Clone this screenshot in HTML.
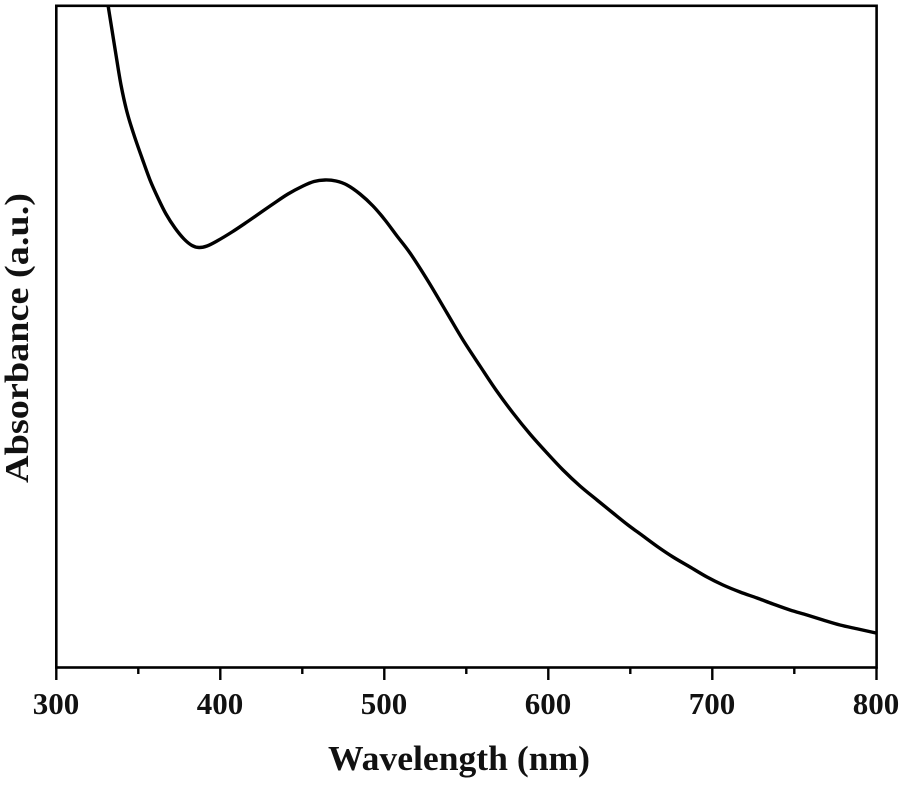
<!DOCTYPE html>
<html>
<head>
<meta charset="utf-8">
<style>
  html, body { margin: 0; padding: 0; background: #fff; }
  svg { display: block; }
  text { font-family: "Liberation Serif", "DejaVu Serif", serif; font-weight: bold; fill: #111; }
</style>
</head>
<body>
<svg width="901" height="785" viewBox="0 0 901 785" xmlns="http://www.w3.org/2000/svg">
  <defs>
    <clipPath id="plot">
      <rect x="56" y="5" width="821" height="663"/>
    </clipPath>
  </defs>
  <rect x="0" y="0" width="901" height="785" fill="#fff"/>

  <!-- curve -->
  <g clip-path="url(#plot)">
    <polyline id="curve" fill="none" stroke="#000" stroke-width="3.4" stroke-linejoin="round" stroke-linecap="round"
      points="106,-8 108,5 112,30 116,55 121,85 127,112 134,135 142,158 150,180 158,198 166,214 175,228 184,239 192,245.5 199,247.5 207,246 217,241 232,232 247,222 260,213 273,204 288,194 303,186 314,181.5 325,180 336,181 347,185 360,194 373,206 385,220 397,236 410,253 428,281 447,313 463,340 480,366 496,390 513,413 530,434 547,453 563,470 580,486 597,500 613,513 628,525 643,536 658,547 673,557 690,567 707,577 723,585 740,592 757,598 773,604 790,610 807,615 823,620 840,625 858,629 876,633 890,636"/>
    <path id="smooth" fill="none" stroke="#000" stroke-width="3.4" stroke-linejoin="round" stroke-linecap="round" d=""/>
  </g>

  <!-- axes box -->
  <rect x="56.3" y="5.8" width="820.3" height="661.7" fill="none" stroke="#000" stroke-width="2.6"/>

  <!-- ticks -->
  <g stroke="#000" stroke-width="2.4">
    <line x1="56.3" y1="667" x2="56.3" y2="680"/>
    <line x1="138.3" y1="667" x2="138.3" y2="674"/>
    <line x1="220.3" y1="667" x2="220.3" y2="680"/>
    <line x1="302.3" y1="667" x2="302.3" y2="674"/>
    <line x1="384.3" y1="667" x2="384.3" y2="680"/>
    <line x1="466.3" y1="667" x2="466.3" y2="674"/>
    <line x1="548.3" y1="667" x2="548.3" y2="680"/>
    <line x1="630.3" y1="667" x2="630.3" y2="674"/>
    <line x1="712.3" y1="667" x2="712.3" y2="680"/>
    <line x1="794.3" y1="667" x2="794.3" y2="674"/>
    <line x1="876.5" y1="667" x2="876.5" y2="680"/>
  </g>

  <!-- tick labels -->
  <g font-size="31" text-anchor="middle">
    <text x="56" y="714">300</text>
    <text x="220" y="714">400</text>
    <text x="384" y="714">500</text>
    <text x="548" y="714">600</text>
    <text x="712" y="714">700</text>
    <text x="876" y="714">800</text>
  </g>

  <!-- axis titles -->
  <text x="459" y="770" font-size="35" text-anchor="middle" textLength="262" lengthAdjust="spacingAndGlyphs">Wavelength (nm)</text>
  <text transform="translate(28,338) rotate(-90)" x="0" y="0" font-size="34" text-anchor="middle" textLength="290" lengthAdjust="spacingAndGlyphs">Absorbance (a.u.)</text>
</svg>
<script>
(function(){
  var pl = document.getElementById('curve');
  var raw = pl.getAttribute('points').trim().split(/\s+/).map(function(s){var a=s.split(',');return [parseFloat(a[0]),parseFloat(a[1])];});
  var n = raw.length;
  var d = 'M' + raw[0][0] + ',' + raw[0][1];
  for (var i = 0; i < n - 1; i++) {
    var p0 = raw[i > 0 ? i - 1 : i], p1 = raw[i], p2 = raw[i + 1], p3 = raw[i + 2 < n ? i + 2 : i + 1];
    var c1x = p1[0] + (p2[0] - p0[0]) / 6, c1y = p1[1] + (p2[1] - p0[1]) / 6;
    var c2x = p2[0] - (p3[0] - p1[0]) / 6, c2y = p2[1] - (p3[1] - p1[1]) / 6;
    d += ' C' + c1x.toFixed(2) + ',' + c1y.toFixed(2) + ' ' + c2x.toFixed(2) + ',' + c2y.toFixed(2) + ' ' + p2[0] + ',' + p2[1];
  }
  document.getElementById('smooth').setAttribute('d', d);
  pl.setAttribute('stroke', 'none');
})();
</script>
</body>
</html>
